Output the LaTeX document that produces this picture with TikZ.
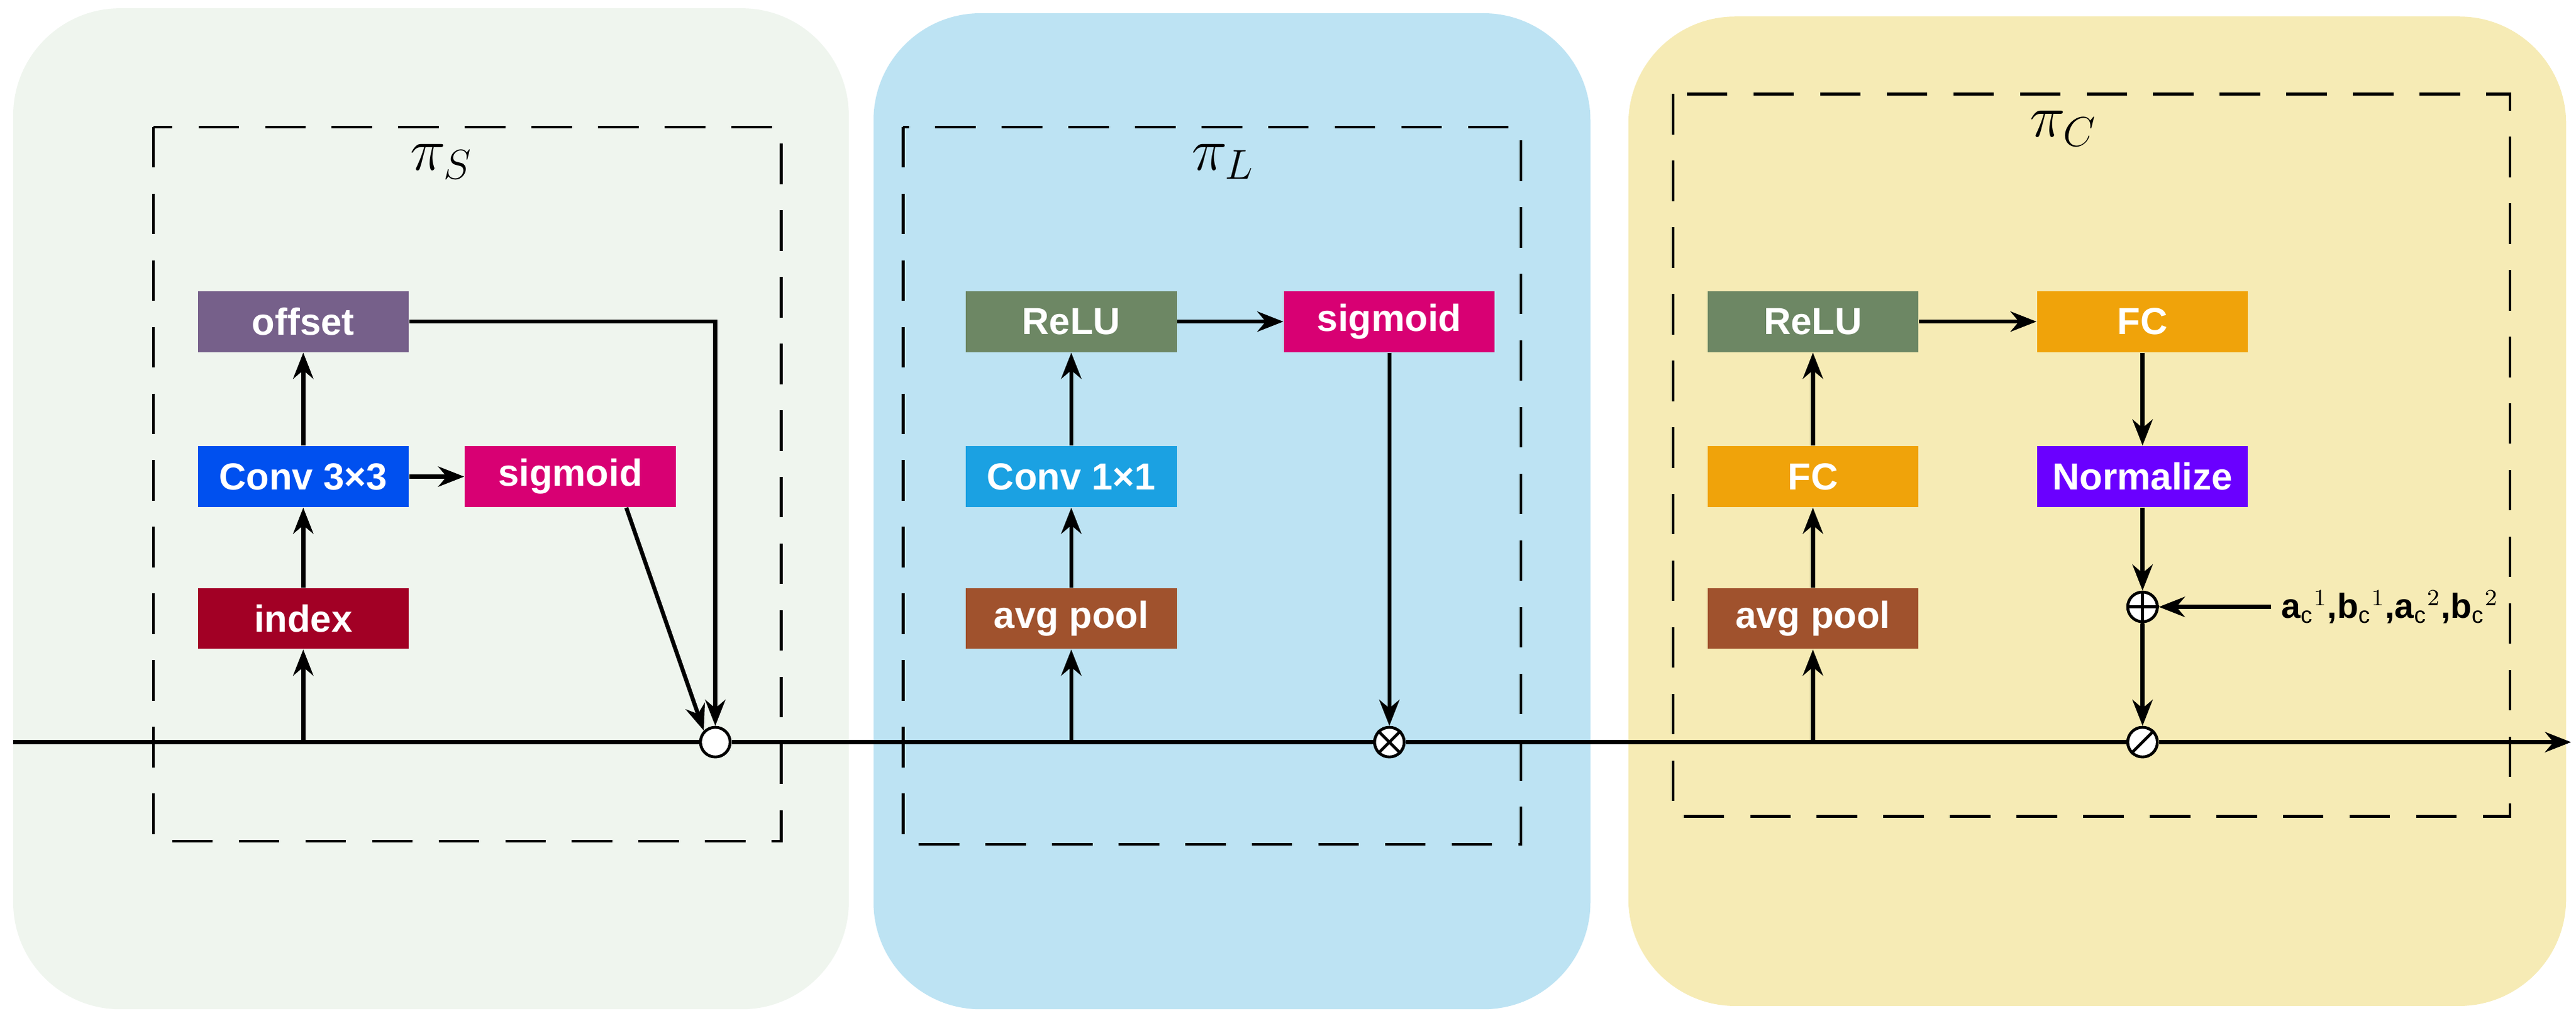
\documentclass[tikz,border=0pt]{standalone}
\usepackage{fontspec}
\setmainfont{Liberation Sans}
\usetikzlibrary{arrows.meta}
\begin{document}
\begin{tikzpicture}[x=0.02cm,y=-0.02cm,
  panel/.style={rounded corners=1.3cm,draw=none},
  dbox/.style={draw,line width=0.9pt,dash pattern=on 14pt off 9pt},
  blk/.style={minimum width=2.56cm,minimum height=0.74cm,inner sep=0pt,text=white,font=\fontsize{13}{14}\selectfont\bfseries},
  arr/.style={-{Stealth[length=9pt,width=7pt]},line width=1.4pt},
  op/.style={circle,draw,fill=white,line width=1pt,minimum size=0.36cm,inner sep=0pt},
  pil/.style={font=\fontsize{20}{22}\selectfont}]
\useasboundingbox (0,0) rectangle (1563,620);
\definecolor{pg}{HTML}{EFF5EE}\definecolor{pb}{HTML}{BDE3F3}\definecolor{py}{HTML}{F6EBB5}
\definecolor{cOff}{HTML}{76608A}\definecolor{cConv}{HTML}{0050EF}\definecolor{cSig}{HTML}{D80073}
\definecolor{cIdx}{HTML}{A20025}\definecolor{cAvg}{HTML}{A0522D}\definecolor{cC1}{HTML}{1BA1E2}
\definecolor{cRelu}{HTML}{6D8764}\definecolor{cFC}{HTML}{F0A30A}\definecolor{cNorm}{HTML}{6A00FF}
\fill[panel,pg] (8,5) rectangle (515,612);
\fill[panel,pb] (530,8) rectangle (965,612);
\fill[panel,py] (988,10) rectangle (1557,610);
\draw[dbox] (93,77) rectangle (474,510);
\draw[dbox] (548,77) rectangle (923,512);
\draw[dbox] (1015,57) rectangle (1523,495);
\node[pil] (pS) at (268,98) {$\pi_S$};
\node[pil] (pL) at (742,98) {$\pi_L$};
\node[pil] (pC) at (1252,78) {$\pi_C$};
% main line
\coordinate (start) at (8,450);
\coordinate (end) at (1560,450);
\node[op] (c1) at (434,450) {};
\node[op] (c2) at (843,450) {};
\node[op] (c3) at (1300,450) {};
\draw[line width=1pt] (c2.north west)--(c2.south east) (c2.north east)--(c2.south west);
\draw[line width=1pt] (c3.south west)--(c3.north east);
\draw[line width=1.4pt] (start)--(c1) (c1)--(c2) (c2)--(c3);
\draw[arr] (c3)--(end);
% panel 1
\node[blk,fill=cOff] (off) at (184,195) {offset};
\node[blk,fill=cConv] (cv3) at (184,289) {Conv 3×3};
\node[blk,fill=cSig] (sg1) at (346,289) {sigmoid};
\node[blk,fill=cIdx] (idx) at (184,375) {index};
\draw[arr] (184,450)--(idx);
\draw[arr] (idx)--(cv3);
\draw[arr] (cv3)--(off);
\draw[arr] (cv3)--(sg1);
\draw[arr] (off.east)-|(c1.north);
\draw[arr] (sg1.south)++(34,0)--(c1.north west);
% panel 2
\node[blk,fill=cAvg] (av2) at (650,375) {avg pool};
\node[blk,fill=cC1] (cv1) at (650,289) {Conv 1×1};
\node[blk,fill=cRelu] (re2) at (650,195) {ReLU};
\node[blk,fill=cSig] (sg2) at (843,195) {sigmoid};
\draw[arr] (650,450)--(av2);
\draw[arr] (av2)--(cv1);
\draw[arr] (cv1)--(re2);
\draw[arr] (re2)--(sg2);
\draw[arr] (sg2)--(c2);
% panel 3
\node[blk,fill=cAvg] (av3) at (1100,375) {avg pool};
\node[blk,fill=cFC] (fc1) at (1100,289) {FC};
\node[blk,fill=cRelu] (re3) at (1100,195) {ReLU};
\node[blk,fill=cFC] (fc2) at (1300,195) {FC};
\node[blk,fill=cNorm] (nm) at (1300,289) {Normalize};
\node[op] (pl) at (1300,368) {};
\draw[line width=1pt] (pl.north)--(pl.south) (pl.west)--(pl.east);
\node[font=\fontsize{12}{13}\selectfont\bfseries,anchor=west] (ab) at (1378,368) {a$_\mathrm{c}$$^1$,b$_\mathrm{c}$$^1$,a$_\mathrm{c}$$^2$,b$_\mathrm{c}$$^2$};
\draw[arr] (1100,450)--(av3);
\draw[arr] (av3)--(fc1);
\draw[arr] (fc1)--(re3);
\draw[arr] (re3)--(fc2);
\draw[arr] (fc2)--(nm);
\draw[arr] (nm)--(pl);
\draw[arr] (ab.west)--(pl);
\draw[arr] (pl)--(c3);
\end{tikzpicture}
\end{document}
